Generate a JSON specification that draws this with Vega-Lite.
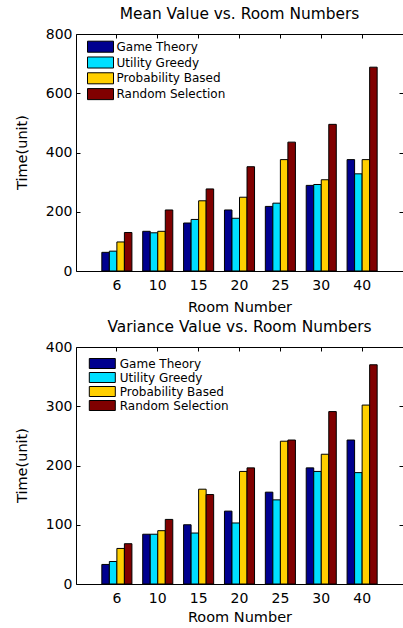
{
  "$schema": "https://vega.github.io/schema/vega-lite/v6.json",
  "background": "white",
  "padding": {"left": 13, "top": 6, "right": 0, "bottom": 0},
  "spacing": 5,
  "config": {
    "font": "DejaVu Sans",
    "view": {"stroke": "black", "strokeWidth": 1},
    "axis": {"grid": false, "domain": false, "tickColor": "black", "tickSize": -4, "labelColor": "black", "titleColor": "black", "labelFont": "DejaVu Sans", "titleFont": "DejaVu Sans", "labelFontSize": 14, "titleFontSize": 14.5, "titleFontWeight": "normal"},
    "title": {"font": "DejaVu Sans", "fontSize": 15.4, "fontWeight": "normal", "color": "black", "offset": 5}
  },
  "datasets": {
    "mean": [
      {"room": "6", "method": "Game Theory", "value": 63},
      {"room": "6", "method": "Utility Greedy", "value": 67},
      {"room": "6", "method": "Probability Based", "value": 98},
      {"room": "6", "method": "Random Selection", "value": 130},
      {"room": "10", "method": "Game Theory", "value": 134},
      {"room": "10", "method": "Utility Greedy", "value": 129},
      {"room": "10", "method": "Probability Based", "value": 134},
      {"room": "10", "method": "Random Selection", "value": 206},
      {"room": "15", "method": "Game Theory", "value": 162},
      {"room": "15", "method": "Utility Greedy", "value": 174},
      {"room": "15", "method": "Probability Based", "value": 237},
      {"room": "15", "method": "Random Selection", "value": 277},
      {"room": "20", "method": "Game Theory", "value": 206},
      {"room": "20", "method": "Utility Greedy", "value": 178},
      {"room": "20", "method": "Probability Based", "value": 249},
      {"room": "20", "method": "Random Selection", "value": 352},
      {"room": "25", "method": "Game Theory", "value": 218},
      {"room": "25", "method": "Utility Greedy", "value": 229},
      {"room": "25", "method": "Probability Based", "value": 376},
      {"room": "25", "method": "Random Selection", "value": 435},
      {"room": "30", "method": "Game Theory", "value": 289},
      {"room": "30", "method": "Utility Greedy", "value": 292},
      {"room": "30", "method": "Probability Based", "value": 308},
      {"room": "30", "method": "Random Selection", "value": 495},
      {"room": "40", "method": "Game Theory", "value": 376},
      {"room": "40", "method": "Utility Greedy", "value": 328},
      {"room": "40", "method": "Probability Based", "value": 376},
      {"room": "40", "method": "Random Selection", "value": 688}
    ],
    "variance": [
      {"room": "6", "method": "Game Theory", "value": 33},
      {"room": "6", "method": "Utility Greedy", "value": 38},
      {"room": "6", "method": "Probability Based", "value": 60},
      {"room": "6", "method": "Random Selection", "value": 68},
      {"room": "10", "method": "Game Theory", "value": 84},
      {"room": "10", "method": "Utility Greedy", "value": 84},
      {"room": "10", "method": "Probability Based", "value": 90},
      {"room": "10", "method": "Random Selection", "value": 109},
      {"room": "15", "method": "Game Theory", "value": 100},
      {"room": "15", "method": "Utility Greedy", "value": 86},
      {"room": "15", "method": "Probability Based", "value": 160},
      {"room": "15", "method": "Random Selection", "value": 151},
      {"room": "20", "method": "Game Theory", "value": 123},
      {"room": "20", "method": "Utility Greedy", "value": 103},
      {"room": "20", "method": "Probability Based", "value": 190},
      {"room": "20", "method": "Random Selection", "value": 196},
      {"room": "25", "method": "Game Theory", "value": 155},
      {"room": "25", "method": "Utility Greedy", "value": 142},
      {"room": "25", "method": "Probability Based", "value": 241},
      {"room": "25", "method": "Random Selection", "value": 243},
      {"room": "30", "method": "Game Theory", "value": 196},
      {"room": "30", "method": "Utility Greedy", "value": 190},
      {"room": "30", "method": "Probability Based", "value": 219},
      {"room": "30", "method": "Random Selection", "value": 291},
      {"room": "40", "method": "Game Theory", "value": 243},
      {"room": "40", "method": "Utility Greedy", "value": 188},
      {"room": "40", "method": "Probability Based", "value": 302},
      {"room": "40", "method": "Random Selection", "value": 370}
    ]
  },
  "resolve": {"scale": {"color": "independent"}, "legend": {"color": "independent"}},
  "vconcat": [
    {
      "title": "Mean Value vs. Room Numbers",
      "width": 327,
      "height": 237,
      "data": {"name": "mean"},
      "layer": [
        {
          "mark": {"type": "bar", "stroke": "black", "strokeWidth": 1},
          "encoding": {
            "x": {"field": "room", "type": "nominal", "sort": ["6", "10", "15", "20", "25", "30", "40"], "scale": {"paddingInner": 0.264, "paddingOuter": 0.632}, "axis": {"orient": "bottom", "title": "Room Number", "labelAngle": 0, "labelPadding": 11, "titlePadding": 8}},
            "xOffset": {"field": "method", "type": "nominal", "sort": ["Game Theory", "Utility Greedy", "Probability Based", "Random Selection"], "scale": {"paddingInner": 0, "paddingOuter": 0}},
            "y": {"field": "value", "type": "quantitative", "stack": null, "scale": {"domain": [0, 800], "nice": false}, "axis": {"orient": "left", "values": [0, 200, 400, 600, 800], "title": "Time(unit)", "labelPadding": 8, "titleAngle": 270, "titleBaseline": "middle", "titleX": -54, "titleY": 118}},
            "color": {"field": "method", "type": "nominal", "sort": ["Game Theory", "Utility Greedy", "Probability Based", "Random Selection"], "scale": {"domain": ["Game Theory", "Utility Greedy", "Probability Based", "Random Selection"], "range": ["#00008F", "#00DFFF", "#FFCF00", "#800000"]}, "legend": {"orient": "none", "legendX": 17.5, "legendY": 5.7, "title": null, "symbolType": "M-2,-0.85H2V0.85H-2Z", "symbolSize": 169, "symbolStrokeColor": "black", "symbolStrokeWidth": 1, "symbolOpacity": 1, "labelFontSize": 12, "labelFont": "DejaVu Sans", "labelColor": "black", "labelOffset": 9, "rowPadding": -0.2, "padding": 0}}
          }
        },
        {
          "mark": {"type": "bar", "opacity": 0},
          "encoding": {
            "x": {"field": "room", "type": "nominal", "sort": ["6", "10", "15", "20", "25", "30", "40"], "axis": {"orient": "top", "labels": false, "title": null}},
            "y": {"field": "value", "type": "quantitative", "stack": null, "axis": {"orient": "right", "labels": false, "title": null, "values": [0, 200, 400, 600, 800]}}
          }
        }
      ],
      "resolve": {"axis": {"x": "independent", "y": "independent"}}
    },
    {
      "title": "Variance Value vs. Room Numbers",
      "width": 327,
      "height": 237,
      "data": {"name": "variance"},
      "layer": [
        {
          "mark": {"type": "bar", "stroke": "black", "strokeWidth": 1},
          "encoding": {
            "x": {"field": "room", "type": "nominal", "sort": ["6", "10", "15", "20", "25", "30", "40"], "scale": {"paddingInner": 0.264, "paddingOuter": 0.632}, "axis": {"orient": "bottom", "title": "Room Number", "labelAngle": 0, "labelPadding": 11, "titlePadding": 5}},
            "xOffset": {"field": "method", "type": "nominal", "sort": ["Game Theory", "Utility Greedy", "Probability Based", "Random Selection"], "scale": {"paddingInner": 0, "paddingOuter": 0}},
            "y": {"field": "value", "type": "quantitative", "stack": null, "scale": {"domain": [0, 400], "nice": false}, "axis": {"orient": "left", "values": [0, 100, 200, 300, 400], "title": "Time(unit)", "labelPadding": 8, "titleAngle": 270, "titleBaseline": "middle", "titleX": -54, "titleY": 118}},
            "color": {"field": "method", "type": "nominal", "sort": ["Game Theory", "Utility Greedy", "Probability Based", "Random Selection"], "scale": {"domain": ["Game Theory", "Utility Greedy", "Probability Based", "Random Selection"], "range": ["#00008F", "#00DFFF", "#FFCF00", "#800000"]}, "legend": {"orient": "none", "legendX": 20.3, "legendY": 10.5, "title": null, "symbolType": "M-2.6,-1H2.6V1H-2.6Z", "symbolSize": 100, "symbolStrokeColor": "black", "symbolStrokeWidth": 1, "symbolOpacity": 1, "labelFontSize": 12, "labelFont": "DejaVu Sans", "labelColor": "black", "labelOffset": 11.5, "rowPadding": 0, "padding": 0}}
          }
        },
        {
          "mark": {"type": "bar", "opacity": 0},
          "encoding": {
            "x": {"field": "room", "type": "nominal", "sort": ["6", "10", "15", "20", "25", "30", "40"], "axis": {"orient": "top", "labels": false, "title": null}},
            "y": {"field": "value", "type": "quantitative", "stack": null, "axis": {"orient": "right", "labels": false, "title": null, "values": [0, 100, 200, 300, 400]}}
          }
        }
      ],
      "resolve": {"axis": {"x": "independent", "y": "independent"}}
    }
  ]
}
